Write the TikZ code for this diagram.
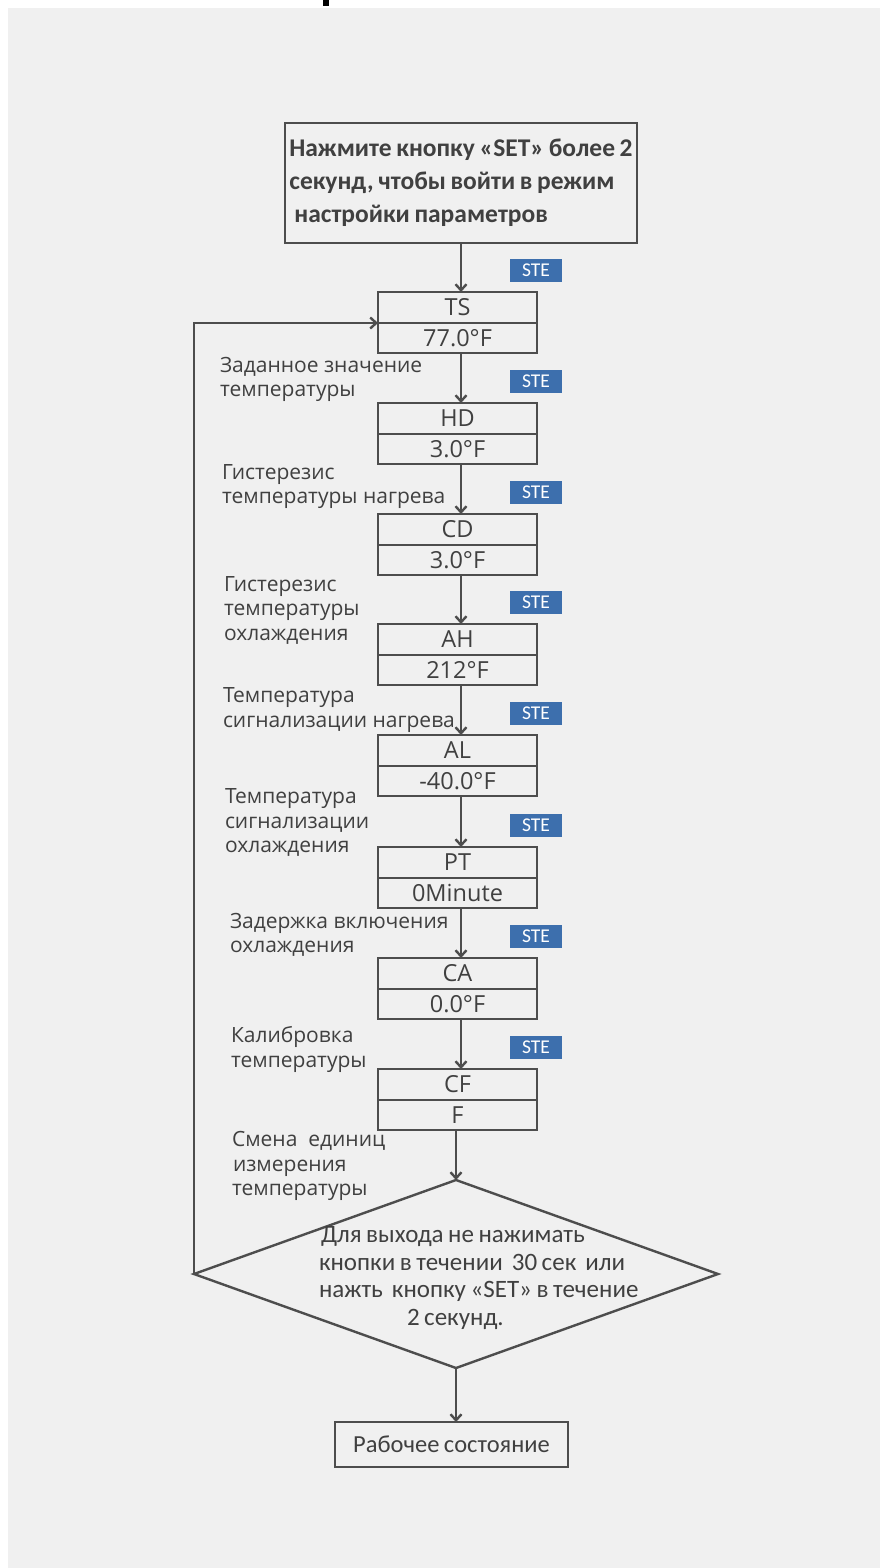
\documentclass[tikz,border=0pt]{standalone}
\usepackage{fontspec}
\setmainfont{Open Sans}
\newfontfamily\carlito{Carlito}
\newfontfamily\carlitoT{Carlito}[WordSpace=0.8]
\usetikzlibrary{arrows.meta,shapes.geometric,calc}
\definecolor{ln}{HTML}{4D4D4D}
\definecolor{txt}{HTML}{404040}
\definecolor{stebl}{HTML}{3D6FAD}
\definecolor{bg}{HTML}{F0F0F0}
\begin{document}
\begin{tikzpicture}[x=1pt,y=-1pt,
  every node/.style={inner sep=0pt, outer sep=0pt},
  arr/.style={draw=ln, line width=2.4pt, -{Straight Barb[length=6pt,width=11pt]}},
  ptop/.style={draw=ln, line width=2.4pt, minimum width=159pt, minimum height=31pt, font=\fontsize{23.5}{26}\selectfont, text=txt, anchor=north},
  pbot/.style={ptop, minimum height=30pt},
  ste/.style={fill=stebl, minimum width=52pt, minimum height=23pt, text=white, font=\carlito\fontsize{19.5}{20}\selectfont},
  lbl/.style={anchor=west, align=left, text=txt, font=\fontsize{21}{24.5}\selectfont},
  cbox/.style={draw=ln, line width=2.4pt, text=txt},
]
\useasboundingbox (0,0) rectangle (882,1568);
\fill[white] (0,0) rectangle (882,1568);
\fill[bg] (8,8) rectangle (880,1568);
\fill[black] (323,0) rectangle (329,6);

% start box
\node[cbox, minimum width=352pt, minimum height=120pt, align=left,
      font=\carlitoT\bfseries\fontsize{25.5}{33}\selectfont] (start) at (461,183)
  {Нажмите кнопку «SET» более 2\\секунд, чтобы войти в режим\\\hspace*{5pt}настройки параметров};

% parameter boxes
\node[ptop] (ts) at (457.5,292) {TS};   \node[pbot] (tsv) at (ts.south) {77.0°F};
\node[ptop] (hd) at (457.5,403) {HD};   \node[pbot] (hdv) at (hd.south) {3.0°F};
\node[ptop] (cd) at (457.5,514) {CD};   \node[pbot] (cdv) at (cd.south) {3.0°F};
\node[ptop] (ah) at (457.5,624) {AH};   \node[pbot] (ahv) at (ah.south) {212°F};
\node[ptop] (al) at (457.5,735) {AL};   \node[pbot] (alv) at (al.south) {-40.0°F};
\node[ptop] (pt) at (457.5,847) {PT};   \node[pbot] (ptv) at (pt.south) {0Minute};
\node[ptop] (ca) at (457.5,958) {CA};   \node[pbot] (cav) at (ca.south) {0.0°F};
\node[ptop] (cf) at (457.5,1069) {CF};  \node[pbot] (cfv) at (cf.south) {F};

% STE tags
\node[ste] (s1) at (536,270) {STE};
\node[ste] (s2) at (536,381) {STE};
\node[ste] (s3) at (536,492) {STE};
\node[ste] (s4) at (536,602) {STE};
\node[ste] (s5) at (536,713) {STE};
\node[ste] (s6) at (536,825) {STE};
\node[ste] (s7) at (536,936) {STE};
\node[ste] (s8) at (536,1047) {STE};

% side labels
\node[lbl] (l1) at (220,379.5) {Заданное значение\\температуры};
\node[lbl] (l2) at (222,486.5) {Гистерезис\\температуры нагрева};
\node[lbl] (l3) at (224,610) {Гистерезис\\температуры\\охлаждения};
\node[lbl] (l4) at (223,710) {Температура\\сигнализации нагрева};
\node[lbl] (l5) at (225,822.5) {Температура\\сигнализации\\охлаждения};
\node[lbl] (l6) at (230,935) {Задержка включения\\охлаждения};
\node[lbl] (l7) at (231,1049.5) {Калибровка\\температуры};
\node[lbl] (l8) at (232,1166) {Смена\ \ единиц\\\hspace*{1pt}измерения\\температуры};

% decision
\node[diamond, aspect=2.79, draw=ln, line width=2.4pt, minimum width=524pt, minimum height=188pt] (dec) at (456,1274) {};
\node[anchor=west, align=left, text=txt, font=\carlito\fontsize{25}{27.5}\selectfont] (dect) at (319,1278)
  {\hspace*{2pt}Для выхода не нажимать\\кнопки в течении\ \ 30 сек\ \ или\\нажть\ \ кнопку «SET» в течение\\\hspace*{88pt}2 секунд.};

% end
\node[cbox, minimum width=233pt, minimum height=45pt, font=\carlito\fontsize{24.5}{26}\selectfont] (work) at (451.5,1444.5) {Рабочее состояние};

% connectors
\draw[arr] (start.south) -- (start.south |- ts.north);
\draw[arr] ([xshift=3.5pt]tsv.south) -- ([xshift=3.5pt]hd.north);
\draw[arr] ([xshift=3.5pt]hdv.south) -- ([xshift=3.5pt]cd.north);
\draw[arr] ([xshift=3.5pt]cdv.south) -- ([xshift=3.5pt]ah.north);
\draw[arr] ([xshift=3.5pt]ahv.south) -- ([xshift=3.5pt]al.north);
\draw[arr] ([xshift=3.5pt]alv.south) -- ([xshift=3.5pt]pt.north);
\draw[arr] ([xshift=3.5pt]ptv.south) -- ([xshift=3.5pt]ca.north);
\draw[arr] ([xshift=3.5pt]cav.south) -- ([xshift=3.5pt]cf.north);
\draw[arr] (dec.north |- cfv.south) -- (dec.north);
\draw[arr] (dec.south) -- (dec.south |- work.north);
\draw[arr] (dec.west) |- (ts.south west);
\end{tikzpicture}
\end{document}
